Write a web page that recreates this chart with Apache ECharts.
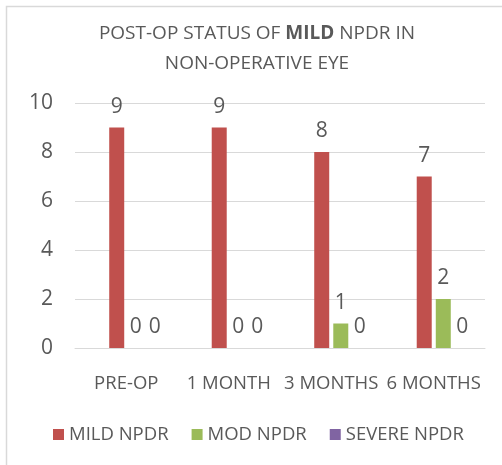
<!DOCTYPE html>
<html>
<head>
<meta charset="utf-8">
<script src="https://cdn.jsdelivr.net/npm/echarts@6/dist/echarts.min.js"></script>
<style>
html,body{margin:0;padding:0;background:#fff;}
#c{width:502px;height:465px;}
</style>
</head>
<body>
<div id="c"></div>
<script>
var categories = ['PRE-OP', '1 MONTH', '3 MONTHS', '6 MONTHS'];
var mildNpdr = [9, 9, 8, 7];
var modNpdr = [0, 0, 1, 2];
var severeNpdr = [0, 0, 0, 0];
var blankSeries = ['-', '-', '-', '-'];
var yTicks = [0, 2, 4, 6, 8, 10];

var FONT = 'Open Sans';
var GRAY = '#595959';

var chart = echarts.init(document.getElementById('c'), null, {renderer: 'canvas'});
function labelCfg() {
  return {show: true, position: 'top', distance: 10, color: GRAY, fontFamily: FONT, fontSize: 21,
    formatter: function (p) { return p.value; }};
}
chart.setOption({
  animation: false,
  backgroundColor: '#fff',
  graphic: [{type: 'rect', shape: {x: 6.5, y: 6.5, width: 520, height: 480},
    style: {fill: 'none', stroke: '#d9d9d9', lineWidth: 1.5}, silent: true, z: -1}],
  title: {
    left: 252, textAlign: 'center', top: 14,
    text: '{a|POST-OP STATUS OF }{b|MILD}{a| NPDR IN}\n{a|NON-OPERATIVE EYE}',
    textStyle: {
      fontWeight: 'normal',
      rich: {
        a: {fontFamily: FONT, fontSize: 19, color: GRAY, fontWeight: 'normal', lineHeight: 30},
        b: {fontFamily: FONT, fontSize: 19, color: GRAY, fontWeight: 'bold', lineHeight: 30}
      }
    }
  },
  grid: {left: 75, right: 17, top: 103, bottom: 117, containLabel: false},
  legend: {
    bottom: 16, left: 48,
    data: ['MILD NPDR', 'MOD NPDR', 'SEVERE NPDR'],
    icon: 'rect', itemWidth: 11, itemHeight: 11, itemGap: 23,
    textStyle: {color: GRAY, fontFamily: FONT, fontSize: 18.5}
  },
  xAxis: {
    type: 'category', data: categories,
    axisLine: {lineStyle: {color: '#d9d9d9', width: 1}},
    axisTick: {show: false},
    axisLabel: {color: GRAY, fontFamily: FONT, fontSize: 18.5, margin: 26, interval: 0}
  },
  yAxis: {
    type: 'value', min: 0, max: 10, interval: 2,
    axisLine: {show: false}, axisTick: {show: false},
    splitLine: {lineStyle: {color: '#d9d9d9', width: 1}},
    axisLabel: {color: GRAY, fontFamily: FONT, fontSize: 21, margin: 22,
      formatter: function (v) { return yTicks.indexOf(v) >= 0 ? String(v) : ''; }}
  },
  series: [
    {name: '', type: 'bar', data: blankSeries, barWidth: 15, barGap: '27%', barCategoryGap: '30%'},
    {name: 'MILD NPDR', type: 'bar', data: mildNpdr, barWidth: 15, barGap: '27%',
      itemStyle: {color: '#C0504D'}, label: labelCfg()},
    {name: 'MOD NPDR', type: 'bar', data: modNpdr, barWidth: 15, barGap: '27%',
      itemStyle: {color: '#9BBB59'}, label: labelCfg()},
    {name: 'SEVERE NPDR', type: 'bar', data: severeNpdr, barWidth: 15, barGap: '27%',
      itemStyle: {color: '#8064A2'}, label: labelCfg()}
  ]
});
</script>
</body>
</html>
